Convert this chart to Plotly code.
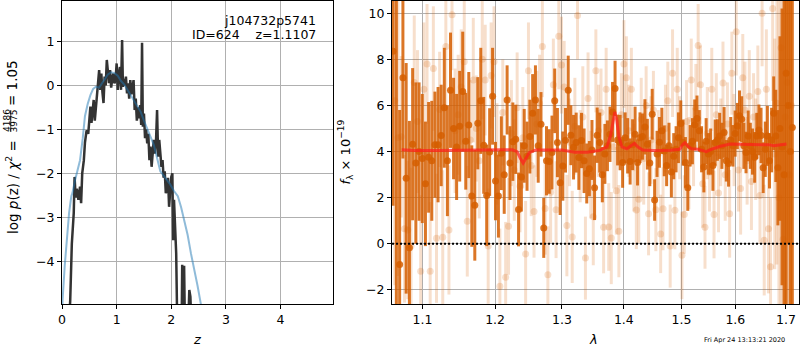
import plotly.graph_objects as go

# ---------------- left panel: p(z) ----------------
pz_z = [0.10, 0.15, 0.18, 0.215, 0.23, 0.25, 0.27, 0.30, 0.33, 0.35,
        0.37, 0.40, 0.42, 0.45, 0.48, 0.50, 0.52, 0.54, 0.56, 0.58,
        0.60, 0.62, 0.645, 0.665, 0.68, 0.70, 0.72, 0.74, 0.76, 0.78,
        0.80, 0.82, 0.84, 0.86, 0.88, 0.90, 0.92, 0.94, 0.96, 0.98,
        1.00, 1.02, 1.04, 1.06, 1.08, 1.10, 1.115, 1.13, 1.15, 1.17,
        1.19, 1.21, 1.23, 1.25, 1.27, 1.29, 1.31, 1.33, 1.35, 1.37,
        1.39, 1.41, 1.43, 1.45, 1.465, 1.48, 1.50, 1.52, 1.54, 1.56,
        1.58, 1.60, 1.62, 1.64, 1.66, 1.68, 1.70, 1.72, 1.74, 1.76,
        1.78, 1.80, 1.82, 1.84, 1.86, 1.88, 1.90, 1.92, 1.94, 1.96,
        1.98, 2.00, 2.02, 2.035, 2.05, 2.07, 2.09, 2.11, 2.15, 2.19,
        2.20, 2.215, 2.235, 2.25, 2.27, 2.31, 2.33, 2.35, 2.37]
pz_logp = [-6.0, -4.9, -3.6, -2.9, -2.08, -2.55, -2.35, -2.6, -2.3, -2.68,
           -2.0, -1.7, -1.3, -1.02, -1.1, -0.72, -0.48, -0.85, -0.55, -0.33,
           -0.8, -0.5, -0.2, 0.1, 0.35, -0.1, 0.27, -0.15, -0.4, 0.2,
           0.0, 0.58, 0.2, 0.05, 0.35, -0.05, 0.15, 0.27, 0.05, 0.12,
           0.5, -0.1, 0.25, 0.42, -0.1, 1.03, -0.03, 0.15, 0.0, 0.2,
           -0.18, 0.05, -0.3, 0.12, -0.2, 0.0, 0.12, -0.56, -0.3, -0.8,
           -0.5, -0.75, -0.45, -0.9, 0.97, -0.94, -0.64, -1.2, -1.0, -1.32,
           -1.1, -1.7, -1.39, -1.85, -1.6, -1.24, -1.55, -1.3, -0.56, -1.62,
           -1.24, -1.5, -1.85, -1.7, -2.1, -1.95, -2.45, -2.3, -2.1, -2.76,
           -2.3, -2.08, -2.0, -3.52, -2.6, -3.36, -3.82, -5.5, -6.0, -5.5,
           -4.08, -5.2, -4.1, -5.5, -5.5, -5.5, -4.65, -4.8, -5.5]

pz_smooth_z = [0.0, 0.01, 0.05, 0.087, 0.13, 0.17, 0.19, 0.24, 0.33, 0.38,
               0.42, 0.47, 0.52, 0.57, 0.62, 0.68, 0.72, 0.78, 0.84, 0.90,
               0.96, 1.02, 1.08, 1.14, 1.20, 1.26, 1.32, 1.38, 1.44, 1.50,
               1.56, 1.62, 1.68, 1.74, 1.80, 1.86, 1.92, 1.98, 2.05, 2.12,
               2.18, 2.24, 2.30, 2.36, 2.42, 2.48, 2.54, 2.60]
pz_smooth = [-5.5, -4.89, -4.1, -3.52, -2.9, -2.52, -2.45, -2.15, -1.7, -1.2,
             -0.7, -0.42, -0.22, -0.08, -0.03, -0.05, 0.02, 0.15, 0.25, 0.30,
             0.28, 0.22, 0.10, 0.02, -0.10, -0.23, -0.36, -0.48, -0.60, -0.80,
             -0.98, -1.15, -1.35, -1.65, -1.95, -2.05, -2.15, -2.25, -2.40, -2.52,
             -2.77, -3.10, -3.40, -3.82, -4.15, -4.55, -4.96, -5.40]

# ---------------- right panel: spectrum ----------------
lam_dark = [1.0620, 1.0662, 1.0704, 1.0746, 1.0788, 1.0830, 1.0872, 1.0914, 1.0956, 1.0998,
            1.1040, 1.1082, 1.1124, 1.1166, 1.1208, 1.1250, 1.1292, 1.1334, 1.1376, 1.1418,
            1.1460, 1.1502, 1.1544, 1.1586, 1.1628, 1.1670, 1.1712, 1.1754, 1.1796, 1.1838,
            1.1880, 1.1922, 1.1964, 1.2006, 1.2048, 1.2090, 1.2132, 1.2174, 1.2216, 1.2258,
            1.2300, 1.2342, 1.2384, 1.2426, 1.2468, 1.2510, 1.2552, 1.2594, 1.2636, 1.2678,
            1.2720, 1.2762, 1.2804, 1.2846, 1.2888, 1.2930, 1.2972, 1.3014, 1.3056, 1.3098,
            1.3140, 1.3182, 1.3224, 1.3266, 1.3308, 1.3350, 1.3392, 1.3434, 1.3476, 1.3518,
            1.3560, 1.3602, 1.3644, 1.3686, 1.3728, 1.3770, 1.3812, 1.3854, 1.3896, 1.3938,
            1.3980, 1.4022, 1.4064, 1.4106, 1.4148, 1.4190, 1.4232, 1.4274, 1.4316, 1.4358,
            1.4400, 1.4442, 1.4484, 1.4526, 1.4568, 1.4610, 1.4652, 1.4694, 1.4736, 1.4778,
            1.4820, 1.4862, 1.4904, 1.4946, 1.4988, 1.5030, 1.5072, 1.5114, 1.5156, 1.5198,
            1.5240, 1.5282, 1.5324, 1.5366, 1.5408, 1.5450, 1.5492, 1.5534, 1.5576, 1.5618,
            1.5660, 1.5702, 1.5744, 1.5786, 1.5828, 1.5870, 1.5912, 1.5954, 1.5996, 1.6038,
            1.6080, 1.6122, 1.6164, 1.6206, 1.6248, 1.6290, 1.6332, 1.6374, 1.6416, 1.6458,
            1.6500, 1.6542, 1.6584, 1.6626, 1.6668, 1.6710, 1.6752, 1.6794, 1.6836, 1.6878,
            1.6920, 1.6962, 1.7004, 1.7046, 1.7088, 1.7130]
flux_dark = [8.35, 11.5, -0.9, 7.2, 2.84, -0.17, 4.32, 3.5, 4.0, 3.7,
             2.6, 3.75, 3.6, 4.3, 4.3, 4.7, 5.9, 3.6, 6.66, 5.0,
             4.2, 5.1, 6.6, 4.45, 5.15, 2.07, 1.67, 5.23, 6.2, 4.27,
             2.1, 3.98, 6.4,
             2.72, 2.07, 3.93, 3.0, 6.24, 3.5, 4.43, 4.53, 1.49, 2.9,
             4.25, 3.8, 4.65, 5.66, 6.24, 4.25, 5.18, 0.69, 3.6, 3.57,
             3.96, 6.2, 4.39, 2.65,
             3.37, 4.49, 6.66, 4.71, 4.19, 4.39, 3.74, 4.48, 3.6, 3.05,
             3.26, 4.07, 2.43, 4.71, 4.39, 3.0, 3.9, 4.25, 4.75, 5.72,
             6.74, 4.5, 4.39, 3.53,
             4.6, 4.25, 3.57, 4.3, 4.75, 3.53, 4.6, 4.65, 5.07, 4.32,
             3.5, 5.62, 1.9, 3.9, 4.4, 4.9, 4.03, 3.4, 4.25, 3.11,
             3.8, 4.1, 4.6, 5.22,
             4.39, 3.53, 2.43, 4.25, 4.45, 5.16, 5.43, 4.9, 4.1, 3.33,
             4.45, 3.9, 4.0, 3.4, 4.39, 4.5, 4.68, 4.25, 4.83, 3.6,
             3.48, 4.5, 4.25, 4.78,
             5.11, 5.55, 5.4, 4.25, 3.96, 4.68, 4.25, 4.0, 3.75, 4.68,
             4.94, 4.7, 3.3, 4.1, 4.68, 3.6, 4.5, 5.66, 4.68, 3.3,
             5.0, 4.2, 3.0, 7.4, 6.0, 4.0, 5.04]
err_dark = [6.7, 30, 6.7, 3.5, 5.0, 5.5, 3.3, 3.5, 3.0, 2.8,
            2.7, 2.4, 2.6, 2.3, 2.5, 2.2, 2.6, 2.4, 2.5, 2.2,
            2.3, 2.4, 2.6, 2.1, 2.3, 2.2, 2.4, 2.0, 2.3, 2.1,
            2.2, 1.9, 2.1,
            1.7, 1.8, 1.6, 1.7, 1.5, 1.6, 1.7, 1.5, 1.6, 1.5,
            1.6, 1.5, 1.6, 1.7, 1.5, 1.6, 1.4, 1.3, 1.5, 1.4,
            1.6, 1.4, 1.5, 1.4,
            1.5, 1.4, 1.5, 1.3, 1.4, 1.3, 1.4, 1.2, 1.4, 1.3,
            1.2, 1.3, 1.4, 1.2, 1.3, 1.2, 1.3, 1.1, 1.2, 1.3,
            1.2, 1.1, 1.2, 1.1,
            1.1, 1.2, 1.0, 1.1, 1.2, 1.0, 1.1, 1.0, 1.2, 1.1,
            1.0, 1.1, 0.9, 1.0, 1.1, 1.0, 1.1, 0.9, 1.0, 1.1,
            1.0, 1.0, 1.1, 1.0,
            1.0, 1.1, 1.0, 0.9, 1.0, 1.1, 1.0, 0.9, 1.0, 1.1,
            1.0, 0.9, 1.0, 1.1, 1.0, 0.9, 1.0, 1.0, 1.1, 0.9,
            1.0, 1.0, 0.9, 1.0,
            1.0, 1.1, 1.0, 1.0, 0.9, 1.1, 1.0, 1.0, 1.1, 1.0,
            1.1, 1.2, 1.1, 1.2, 1.3, 1.2, 1.4, 1.6, 2.0, 2.5,
            4.0, 6.0, 30, 25, 6.0, 30, 8.0]

lam_light = [1.0641, 1.0683, 1.0725, 1.0767, 1.0809, 1.0851, 1.0893, 1.0935, 1.0977, 1.1019,
             1.1061, 1.1103, 1.1145, 1.1187, 1.1229, 1.1271, 1.1313, 1.1355, 1.1397, 1.1439,
             1.1481, 1.1523, 1.1565, 1.1607, 1.1649, 1.1691, 1.1733, 1.1775, 1.1817, 1.1859,
             1.1901, 1.1943, 1.1985, 1.2027, 1.2069, 1.2111, 1.2153, 1.2195, 1.2237, 1.2279,
             1.2321, 1.2363, 1.2405, 1.2447, 1.2489, 1.2531, 1.2573, 1.2615, 1.2657, 1.2699,
             1.2741, 1.2783, 1.2825, 1.2867, 1.2909, 1.2951, 1.2993, 1.3035, 1.3077, 1.3119,
             1.3161, 1.3203, 1.3245, 1.3287, 1.3329, 1.3371, 1.3413, 1.3455, 1.3497, 1.3539,
             1.3581, 1.3623, 1.3665, 1.3707, 1.3749, 1.3791, 1.3833, 1.3875, 1.3917, 1.3959,
             1.4001, 1.4043, 1.4085, 1.4127, 1.4169, 1.4211, 1.4253, 1.4295, 1.4337, 1.4379,
             1.4421, 1.4463, 1.4505, 1.4547, 1.4589, 1.4631, 1.4673, 1.4715, 1.4757, 1.4799,
             1.4841, 1.4883, 1.4925, 1.4967, 1.5009, 1.5051, 1.5093, 1.5135, 1.5177, 1.5219,
             1.5261, 1.5303, 1.5345, 1.5387, 1.5429, 1.5471, 1.5513, 1.5555, 1.5597, 1.5639,
             1.5681, 1.5723, 1.5765, 1.5807, 1.5849, 1.5891, 1.5933, 1.5975, 1.6017, 1.6059,
             1.6101, 1.6143, 1.6185, 1.6227, 1.6269, 1.6311, 1.6353, 1.6395, 1.6437, 1.6479,
             1.6521, 1.6563, 1.6605, 1.6647, 1.6689, 1.6731, 1.6773, 1.6815, 1.6857, 1.6899,
             1.6941, 1.6983, 1.7025, 1.7067, 1.7109]
flux_light = [6.2, 4.6, 4.64, 0.65, 0.6, -0.1, 7.0, 5.3, -1.19,
              6.7, 7.8, -1.19, 7.6, 0.24, 5.83, 0.29, 8.56, 0.6, 9.93,
              4.9, 5.6, 6.8, 7.9, 0.98, 4.5, 7.1, 5.0, 3.6, 8.0,
              7.1, -0.1, 7.3,
              7.9, 3.9, -1.84, 5.7, -1.45, 0.76, 4.8, 3.2, 5.9, 2.5,
              4.6, -0.44, 7.5, 3.4, 1.4, 5.2, 6.1, 8.56, 1.53, -1.34,
              2.24, 6.9, 1.48, 9.0,
              7.75, 6.8, 0.79, 4.4, 0.3, 5.1, 9.9, 3.8, 5.5, -0.62,
              6.3, 3.0, 1.17, 7.5, 4.9, 5.7, 0.72, 6.7, 0.73, 0.25,
              4.2, 2.3, 0.55, 5.6,
              7.8, 7.2, 4.9, 6.7, 3.3, 1.47, 1.93, 5.4, 3.7, 6.0,
              1.3, 4.5, 5.8, 1.48, 3.9, 0.43, 1.52, 5.0, 6.2, -0.1,
              7.4, 1.46, 6.7,
              4.6, -0.5, 1.27, 5.3, 3.5, 7.1, 4.2, 5.9, 8.6, 6.9,
              2.6, 0.72, 4.8, 3.1, 6.7, 1.27, 5.6, 2.2, 4.4, 6.97,
              3.0, 5.2,
              1.3, 7.4, 4.5, 9.2, 3.2, 2.4, 7.2, 5.8, 3.6, 6.4,
              2.7, 5.5, 4.1, 6.6, 2.1, 10.0, 0.16, 6.7, 0.65, -1.0,
              10.2, 3.9, 6.1, 2.0, 8.5, 0.2, 5.5, 7.0, 3.0, 6.0]
err_light = [8.0, 6.0, 3.5, 3.2, 3.0, 3.4, 2.9, 3.1, 3.3,
             2.9, 2.6, 3.0, 2.7, 2.8, 2.5, 2.9, 2.6, 2.8, 2.4,
             2.7, 2.6, 2.5, 2.8, 2.4, 2.6, 2.7, 2.3, 2.5, 2.6,
             2.4, 2.5, 2.3,
             2.4, 2.2, 2.5, 2.3, 2.4, 2.1, 2.3, 2.2, 2.4, 2.0,
             2.2, 2.3, 2.1, 2.2, 2.0, 2.3, 2.1, 2.2, 2.0, 2.1,
             2.2, 2.0, 2.1, 2.3,
             2.1, 2.0, 2.2, 1.9, 2.0, 2.1, 1.9, 2.0, 2.2, 1.8,
             2.0, 1.9, 2.1, 1.8, 2.0, 1.9, 2.0, 1.8, 1.9, 2.0,
             1.8, 1.9, 2.0, 1.8,
             1.9, 1.8, 2.0, 1.8, 1.9, 1.7, 1.9, 1.8, 2.0, 1.7,
             1.8, 1.9, 1.7, 1.8, 1.9, 1.7, 1.8, 1.9, 1.7, 1.8,
             1.9, 1.7, 1.8,
             1.8, 1.9, 1.7, 1.8, 2.0, 1.8, 1.7, 1.9, 1.8, 1.7,
             1.9, 1.8, 2.0, 1.7, 1.8, 1.9, 1.8, 1.7, 1.9, 1.8,
             2.0, 1.8,
             1.9, 1.8, 2.0, 1.9, 1.8, 2.0, 1.9, 2.1, 1.9, 2.0,
             2.1, 1.9, 2.2, 2.0, 2.1, 2.3, 2.4, 2.6, 2.8, 3.0,
             4.0, 5.0, 7.0, 9.0, 12.0, 15.0, 20.0, 20.0, 25.0, 25.0]

model_lam = [1.073, 1.09, 1.12, 1.15, 1.18, 1.21, 1.225, 1.232, 1.237, 1.241,
             1.245, 1.25, 1.26, 1.28, 1.30, 1.32, 1.34, 1.36, 1.372, 1.378,
             1.382, 1.385, 1.388, 1.392, 1.397, 1.405, 1.412, 1.418, 1.424, 1.432,
             1.45, 1.48, 1.497, 1.502, 1.506, 1.511, 1.518, 1.53, 1.538, 1.545,
             1.555, 1.57, 1.59, 1.61, 1.63, 1.65, 1.665, 1.675, 1.69, 1.701]
model_flux = [4.08, 4.05, 4.05, 4.07, 4.06, 4.08, 4.08, 4.0, 3.7, 3.5,
              3.7, 3.95, 4.07, 4.08, 4.07, 3.97, 3.97, 4.05, 4.2, 4.7,
              5.4, 5.72, 5.4, 4.6, 4.2, 4.12, 4.25, 4.35, 4.2, 4.07,
              4.05, 4.06, 4.1, 4.3, 4.38, 4.25, 4.12, 4.1, 4.05, 4.0,
              4.1, 4.22, 4.33, 4.32, 4.28, 4.3, 4.3, 4.25, 4.3, 4.33]

x_ticks_left = [0, 1, 2, 3, 4]
y_ticks_left = [-4, -3, -2, -1, 0, 1]
x_ticks_right = [1.1, 1.2, 1.3, 1.4, 1.5, 1.6, 1.7]
x_ticklabels_right = ["1.1", "1.2", "1.3", "1.4", "1.5", "1.6", "1.7"]
y_ticks_right = [-2, 0, 2, 4, 6, 8, 10]

FONT = "DejaVu Sans"
ORANGE_DARK = "rgba(213,94,0,0.85)"
ORANGE_LIGHT = "rgba(213,94,0,0.2)"

fig = go.Figure()

fig.add_trace(go.Scatter(x=pz_z, y=pz_logp, mode="lines",
                         line=dict(color="#333333", width=2.5),
                         xaxis="x", yaxis="y", hoverinfo="skip"))
fig.add_trace(go.Scatter(x=pz_smooth_z, y=pz_smooth, mode="lines",
                         line=dict(color="rgba(31,119,180,0.5)", width=2),
                         xaxis="x", yaxis="y", hoverinfo="skip"))

fig.add_trace(go.Scatter(x=lam_light, y=flux_light, mode="markers",
                         marker=dict(color=ORANGE_LIGHT, size=7, line=dict(width=0)),
                         error_y=dict(type="data", array=err_light, color=ORANGE_LIGHT,
                                      thickness=3, width=0),
                         xaxis="x2", yaxis="y2", hoverinfo="skip"))
fig.add_trace(go.Scatter(x=lam_dark, y=flux_dark, mode="markers",
                         marker=dict(color=ORANGE_DARK, size=7, line=dict(width=0)),
                         error_y=dict(type="data", array=err_dark, color=ORANGE_DARK,
                                      thickness=3, width=0),
                         xaxis="x2", yaxis="y2", hoverinfo="skip"))
fig.add_trace(go.Scatter(x=model_lam, y=model_flux, mode="lines",
                         line=dict(color="rgba(255,30,30,0.7)", width=3),
                         xaxis="x2", yaxis="y2", hoverinfo="skip"))

fig.add_shape(type="line", xref="x2 domain", x0=0, x1=1, yref="y2", y0=0, y1=0,
              line=dict(color="black", width=2, dash="2px,2px"), layer="above")

axis_style = dict(showline=True, linecolor="black", linewidth=1, mirror=True,
                  ticks="outside", ticklen=4, tickcolor="black", tickwidth=1,
                  showgrid=True, gridcolor="#b0b0b0", gridwidth=1, zeroline=False,
                  automargin=False,
                  tickfont=dict(family=FONT, size=12.5, color="black"))

fig.update_layout(
    width=800, height=350,
    margin=dict(l=62, r=1, t=1, b=46),
    paper_bgcolor="white", plot_bgcolor="white",
    showlegend=False,
    font=dict(family=FONT, color="black"),
    xaxis=dict(domain=[0, 0.3677], range=[0, 4.96], tickvals=x_ticks_left,
               anchor="y", **axis_style),
    yaxis=dict(domain=[0, 1], range=[-4.97, 1.92], tickvals=y_ticks_left,
               anchor="x", **axis_style),
    xaxis2=dict(domain=[0.4478, 1.0], type="log", range=[0.02559, 0.23722],
                tickvals=x_ticks_right, ticktext=x_ticklabels_right,
                anchor="y2", **axis_style),
    yaxis2=dict(domain=[0, 1], range=[-2.61, 10.53], tickvals=y_ticks_right,
                anchor="x2", **axis_style),
)

NB = "\u00a0"
ann = [
    dict(text="j104732p5741", x=0.3478, y=0.9356, xanchor="right", yanchor="middle",
         font=dict(size=12.5)),
    dict(text="ID=624" + NB * 4 + "z=1.1107", x=0.3478, y=0.8894, xanchor="right",
         yanchor="middle", font=dict(size=12.5)),
    dict(text="<i>z</i>", x=0.1832, y=-0.1188, xanchor="center", yanchor="middle",
         font=dict(size=13)),
    dict(text="<i>λ</i>", x=0.7218, y=-0.1188, xanchor="center", yanchor="middle",
         font=dict(size=13)),
    dict(text="<i>f</i><sub>λ</sub> × 10<sup>−19</sup>", x=0.384, y=0.5, textangle=-90,
         xanchor="center", yanchor="middle", font=dict(size=13)),
    dict(text="log <i>p</i>(z) / <i>χ</i><sup>2</sup> =", x=-0.0678, y=0.386, textangle=-90,
         xanchor="center", yanchor="middle", font=dict(size=13.5)),
    dict(text="4186", x=-0.0746, y=0.604, textangle=-90,
         xanchor="center", yanchor="middle", font=dict(size=9)),
    dict(text="3975", x=-0.0645, y=0.604, textangle=-90,
         xanchor="center", yanchor="middle", font=dict(size=9)),
    dict(text="= 1.05", x=-0.0678, y=0.7295, textangle=-90,
         xanchor="center", yanchor="middle", font=dict(size=13.5)),
    dict(text="Fri Apr 24 13:13:21 2020", x=0.9254, y=-0.1172, xanchor="center",
         yanchor="middle", font=dict(size=6.5)),
]
for a in ann:
    a.update(xref="paper", yref="paper", showarrow=False)
    fig.add_annotation(**a)

fig.add_shape(type="line", xref="paper", yref="paper", x0=-0.0695, x1=-0.0695,
              y0=0.568, y1=0.640, line=dict(color="black", width=0.8))

fig.write_html("out.html",
               config={"displayModeBar": False, "staticPlot": True},
               post_script="document.body.style.margin='0';document.body.style.padding='0';")
